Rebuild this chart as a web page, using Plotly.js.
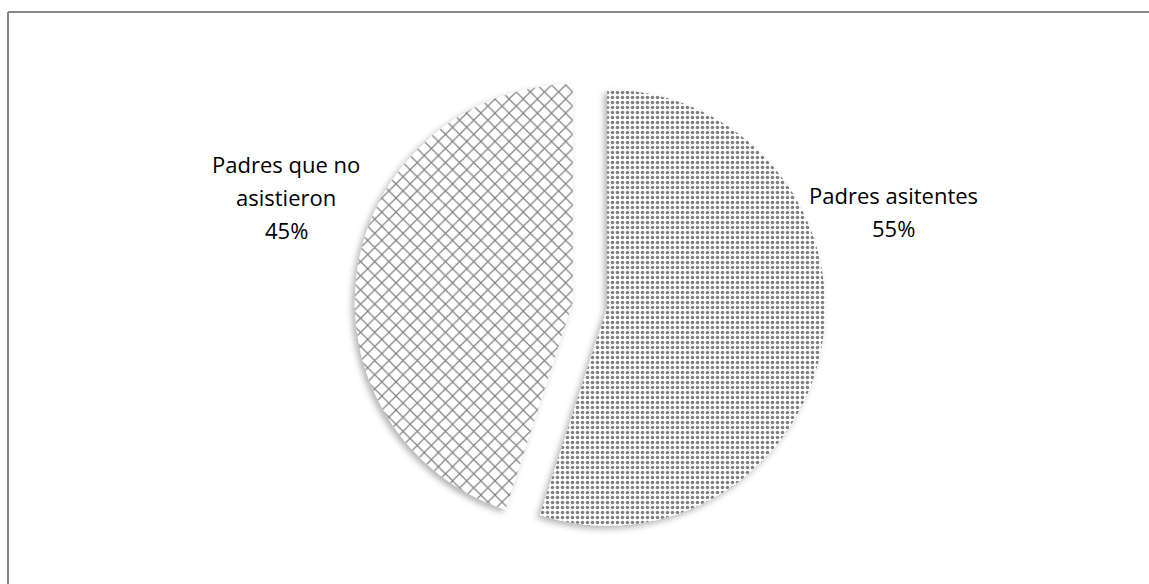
<!DOCTYPE html>
<html>
<head>
<meta charset="utf-8">
<script src="https://cdn.plot.ly/plotly-3.0.1.min.js"></script>
<style>
html,body{margin:0;padding:0;background:#fff;}
#chart{width:1149px;height:584px;}
</style>
</head>
<body>
<div id="chart"></div>
<script>
// Data
const labels = ["Padres asitentes", "Padres que no asistieron"];
const values = [55, 45];
const labelLines = [["Padres asitentes"], ["Padres que no", "asistieron"]];
const patterns = [".", "x"];

const W = 1149, H = 584;
const px = x => x / W;
const py = y => 1 - y / H;

// label anchor positions (pixels) for first line centre
const labelPos = [[893, 195], [286, 164]];
const lineH = 33;

const annotations = [];
labels.forEach((lab, i) => {
  const lines = labelLines[i].concat([values[i] + "%"]);
  lines.forEach((t, k) => {
    annotations.push({
      text: t, xref: "paper", yref: "paper",
      x: px(labelPos[i][0]), y: py(labelPos[i][1] + k * lineH),
      xanchor: "center", yanchor: "middle", showarrow: false,
      font: {family: "Open Sans, sans-serif", size: 22, color: "#000"}
    });
  });
});

const cx = 590, cy = 305, r = 218, pull = 0.08;
const half = r * (1 + pull);

const trace = {
  type: "pie",
  labels: labels,
  values: values,
  sort: false,
  direction: "clockwise",
  rotation: 0,
  pull: [pull, pull],
  textinfo: "none",
  hoverinfo: "none",
  showlegend: false,
  domain: {x: [px(cx - half), px(cx + half)], y: [py(cy + half), py(cy - half)]},
  marker: {
    colors: ["#ffffff", "#ffffff"],
    line: {width: 0},
    pattern: {
      shape: patterns,
      fgcolor: "#000000",
      bgcolor: "#ffffff",
      size: [5, 10],
      solidity: [0.4, 0.22],
      fillmode: "overlay"
    }
  }
};

const layout = {
  width: W, height: H,
  margin: {l: 0, r: 0, t: 0, b: 0},
  paper_bgcolor: "#ffffff",
  annotations: annotations,
  shapes: [
    {type: "line", xref: "paper", yref: "paper", x0: px(8), x1: 1.01, y0: py(12), y1: py(12), line: {color: "#868686", width: 2}},
    {type: "line", xref: "paper", yref: "paper", x0: px(8), x1: px(8), y0: py(12), y1: -0.01, line: {color: "#868686", width: 2}}
  ]
};

Plotly.newPlot("chart", [trace], layout, {staticPlot: true}).then(() => {
  const svg = document.querySelector("#chart svg.main-svg");
  const ns = "http://www.w3.org/2000/svg";
  let defs = svg.querySelector("defs");
  const f = document.createElementNS(ns, "filter");
  f.setAttribute("id", "sliceShadow");
  f.setAttribute("x", "-20%"); f.setAttribute("y", "-20%");
  f.setAttribute("width", "140%"); f.setAttribute("height", "140%");
  const ds = document.createElementNS(ns, "feDropShadow");
  ds.setAttribute("dx", "-3"); ds.setAttribute("dy", "3");
  ds.setAttribute("stdDeviation", "3");
  ds.setAttribute("flood-color", "#000");
  ds.setAttribute("flood-opacity", "0.3");
  f.appendChild(ds);
  defs.appendChild(f);
  document.querySelectorAll("#chart g.slice").forEach(g => g.setAttribute("filter", "url(#sliceShadow)"));
});
</script>
</body>
</html>
